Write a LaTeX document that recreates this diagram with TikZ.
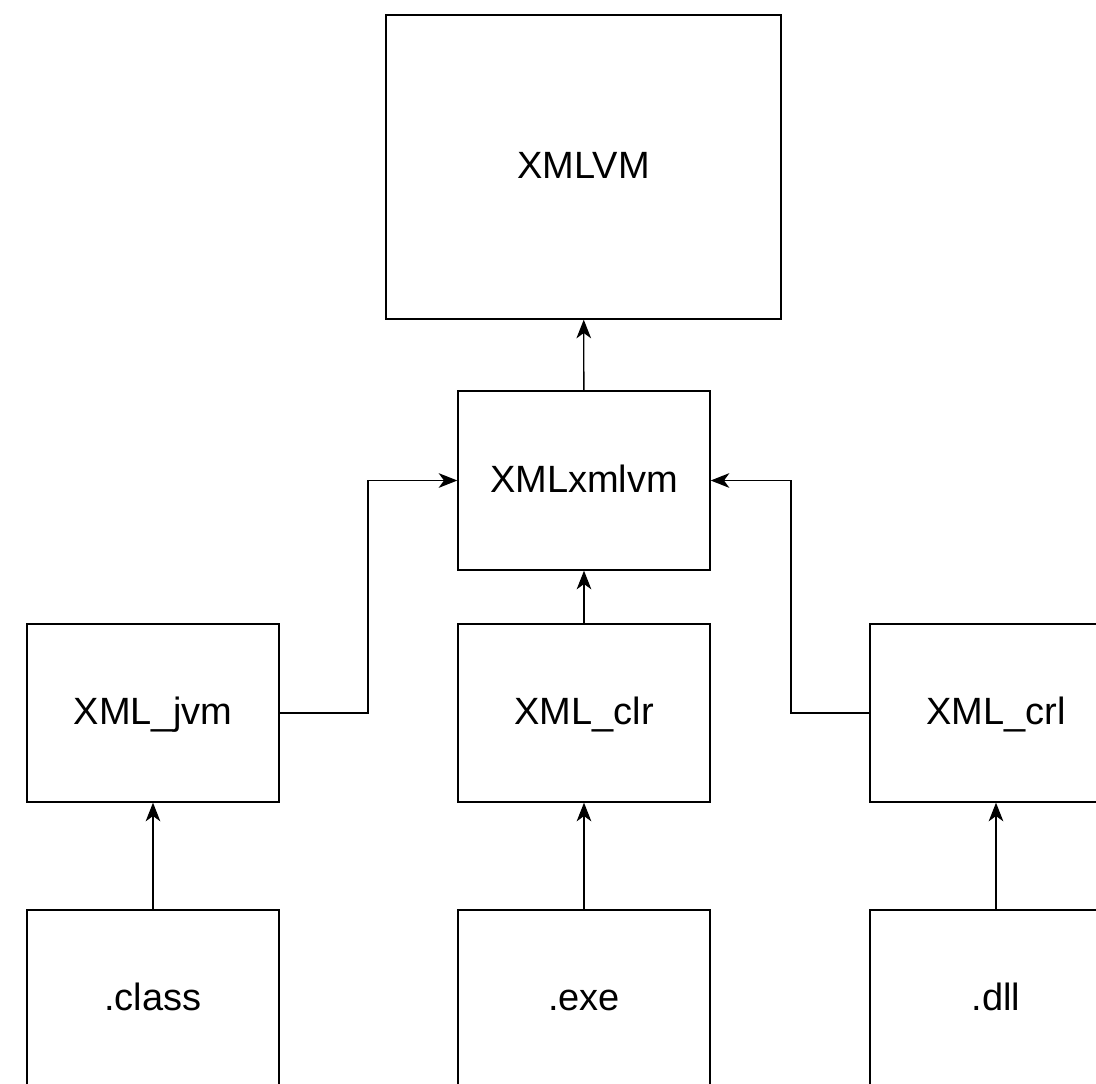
\documentclass[tikz,border=0pt]{standalone}
\usepackage{fontspec}
\setmainfont{Liberation Sans}
\usetikzlibrary{arrows.meta}
\tikzset{tipA/.tip={Stealth[length=14pt,width=11pt,inset=4pt]}}
\begin{document}
\begin{tikzpicture}[x=0.75pt,y=-0.75pt,
  box/.style={draw=black,line width=1pt,fill=white,inner sep=0pt,
    text height=22pt,text depth=4.6pt,
    font=\fontsize{28.5}{34}\selectfont,minimum width=252*0.75pt,minimum height=178*0.75pt},
  conn/.style={draw=black,line width=1pt,-tipA}]
\useasboundingbox (0,0) rectangle (1096,1083);
\clip (0,0) rectangle (1096,1083);
\fill[white] (0,0) rectangle (1096,1083);
\node[box,minimum width=395*0.75pt,minimum height=304*0.75pt] (vm) at (583.5,167) {XMLVM};
\node[box,minimum height=179*0.75pt] (mid) at (584,480.5) {XMLxmlvm};
\node[box] (jvm) at (153,713) {XML\_jvm};
\node[box] (clr) at (584,713) {XML\_clr};
\node[box] (crl) at (996,713) {XML\_crl};
\node[box] (cls) at (153,999) {.class};
\node[box] (exe) at (584,999) {.exe};
\node[box] (dll) at (996,999) {.dll};
\coordinate (j1) at (368,713);
\coordinate (j2) at (368,480.5);
\coordinate (c1) at (791,713);
\coordinate (c2) at (791,480.5);
\draw[conn] (mid) -- (vm);
\draw[conn] (clr) -- (mid);
\draw[conn] (cls) -- (jvm);
\draw[conn] (exe) -- (clr);
\draw[conn] (dll) -- (crl);
\draw[conn] (jvm.east) -- (j1) -- (j2) -- (mid.west);
\draw[conn] (crl.west) -- (c1) -- (c2) -- (mid.east);
\end{tikzpicture}
\end{document}
